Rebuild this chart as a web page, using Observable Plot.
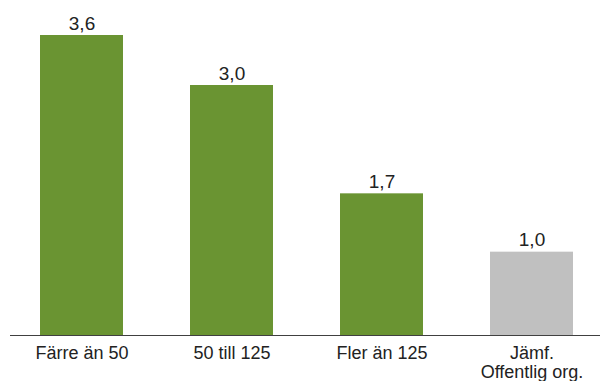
<!DOCTYPE html>
<html>
<head>
<meta charset="utf-8">
<script src="https://cdn.jsdelivr.net/npm/d3@7"></script>
<script src="https://cdn.jsdelivr.net/npm/@observablehq/plot@0.6"></script>
<style>
  html, body { margin: 0; padding: 0; background: #fff; }
  #chart svg { display: block; }
</style>
</head>
<body>
<div id="chart"></div>
<script>
const categories = ["Färre än 50", "50 till 125", "Fler än 125", "Jämf.\nOffentlig org."];
const values = [3.6, 3.0, 1.7, 1.0];
const barColors = ["#6a9432", "#6a9432", "#6a9432", "#c0c0c0"];
const valueLabels = ["3,6", "3,0", "1,7", "1,0"];

const data = categories.map((c, i) => ({cat: c, value: values[i], color: barColors[i], label: valueLabels[i]}));

const chart = Plot.plot({
  width: 600,
  height: 381,
  marginTop: 35,
  marginBottom: 46,
  marginLeft: 10,
  marginRight: 0,
  style: {fontFamily: "'Liberation Sans', Arial, sans-serif", fontSize: "18px", color: "#222", background: "#fff"},
  x: {domain: categories, range: [6, 606], paddingInner: 0.447, paddingOuter: 0.2235, label: null},
  y: {domain: [0, 3.6], axis: null},
  marks: [
    Plot.barY(data, {x: "cat", y: "value", fill: "color"}),
    Plot.ruleY([0], {stroke: "#404040", strokeWidth: 1}),
    Plot.text(data, {x: "cat", y: "value", text: "label", lineAnchor: "bottom", dy: -6, fontSize: 19, fill: "#222"}),
    Plot.axisX({tickSize: 0, tickPadding: 10, fontSize: 18, fill: "#222", label: null, lineHeight: 1.07})
  ]
});
document.getElementById("chart").appendChild(chart);
</script>
</body>
</html>
